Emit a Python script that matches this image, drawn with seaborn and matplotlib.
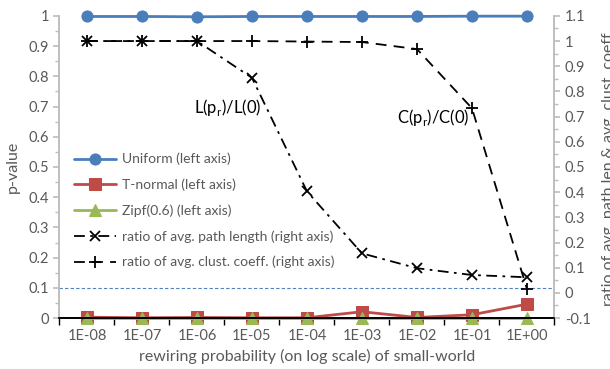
import matplotlib
matplotlib.use("Agg")
import matplotlib.pyplot as plt
import seaborn as sns
import pandas as pd
from matplotlib.ticker import MultipleLocator

categories = ["1E-08", "1E-07", "1E-06", "1E-05", "1E-04", "1E-03", "1E-02", "1E-01", "1E+00"]
uniform = [0.998, 0.998, 0.997, 0.998, 0.998, 0.998, 0.998, 0.999, 0.999]
tnormal = [0.003, 0.001, 0.002, 0.001, 0.001, 0.021, 0.002, 0.011, 0.046]
zipf = [0.0, 0.0, 0.0, 0.0, 0.0, 0.0, 0.0, 0.0, 0.0]
path_ratio = [1.0, 1.0, 1.0, 0.854, 0.403, 0.157, 0.098, 0.071, 0.062]
clust_ratio = [1.0, 1.0, 1.0, 1.0, 0.998, 0.996, 0.968, 0.733, 0.015]
threshold = 0.1

sns.set_theme(style="white")
plt.rcParams["font.family"] = ["Lato", "DejaVu Sans"]
gray = "#595959"

fig = plt.figure(figsize=(6.1, 3.69), dpi=100)
ax = fig.add_axes([0.0975, 0.138, 0.8115, 0.819])
ax2 = ax.twinx()

blue, red, green = "#4A7EBB", "#BE4B48", "#98B954"
sns.lineplot(x=categories, y=uniform, ax=ax, color=blue, marker="o", markersize=8,
             markeredgecolor=blue, linewidth=2, label="Uniform (left axis)", clip_on=False, legend=False)
sns.lineplot(x=categories, y=tnormal, ax=ax, color=red, marker="s", markersize=8,
             markeredgecolor=red, linewidth=2, label="T-normal (left axis)", clip_on=False, legend=False)
sns.lineplot(x=categories, y=zipf, ax=ax, color=green, marker="^", markersize=8,
             markeredgecolor=green, linewidth=2, label="Zipf(0.6) (left axis)", clip_on=False, legend=False)
ax.axhline(threshold, color="#4F81BD", linestyle=(0, (3, 2)), linewidth=0.8)

sns.lineplot(x=categories, y=path_ratio, ax=ax2, color="black", marker="x", markersize=7,
             markeredgecolor="black", markeredgewidth=1.3, linewidth=1.3, linestyle=(0, (6, 3, 1.5, 3)),
             label="ratio of avg. path length (right axis)", legend=False)
sns.lineplot(x=categories, y=clust_ratio, ax=ax2, color="black", marker="+", markersize=8,
             markeredgecolor="black", markeredgewidth=1.3, linewidth=1.3, linestyle=(0, (6, 4)),
             label="ratio of avg. clust. coeff. (right axis)", legend=False)

ax.set_xlim(-0.5, len(categories) - 0.5)
ax.set_ylim(0, 1)
ax2.set_ylim(-0.1, 1.1)
ax.yaxis.set_major_locator(MultipleLocator(0.1))
ax.yaxis.set_minor_locator(MultipleLocator(0.05))
ax2.yaxis.set_major_locator(MultipleLocator(0.1))
ax2.yaxis.set_minor_locator(MultipleLocator(0.05))
ax.set_yticklabels([f"{v:g}" for v in ax.get_yticks()])
ax2.set_yticklabels([f"{v:g}" for v in ax2.get_yticks()])

ax.set_xticks(range(len(categories)))
ax.set_xticklabels(categories)
ax.set_xticks([i - 0.5 for i in range(len(categories) + 1)], minor=True)
ax.tick_params(axis="x", which="major", length=0, labelsize=10.5, colors=gray, pad=8)
ax.tick_params(axis="x", which="minor", length=5, color="black", direction="out", bottom=True)
ax.tick_params(axis="y", which="major", length=4, color="#BFBFBF", labelsize=10.5, labelcolor=gray, left=True, direction="out")
ax.tick_params(axis="y", which="minor", length=3, color="#BFBFBF", left=True, direction="out")
ax2.tick_params(axis="y", which="major", length=4, color="#BFBFBF", labelsize=10.5, labelcolor=gray, right=True, direction="out")
ax2.tick_params(axis="y", which="minor", length=3, color="#BFBFBF", right=True, direction="out")

for a in (ax, ax2):
    a.spines["top"].set_visible(False)
    a.spines["left"].set_color("#BFBFBF")
    a.spines["right"].set_color("#BFBFBF")
    a.spines["bottom"].set_color("black")
    a.grid(False)

ax.set_xlabel("rewiring probability (on log scale) of small-world", fontsize=11.5, color=gray, labelpad=4)
ax.set_ylabel("p-value", fontsize=11.5, color=gray, labelpad=6)
ax2.set_ylabel("ratio of avg. path len.& avg. clust. coeff.", fontsize=11.5, color=gray, labelpad=8)

ax2.text(2.56, 0.738, r"L(p$_\mathregular{r}$)/L(0)", fontsize=12, color="black", ha="center", va="center")
ax2.text(6.3, 0.695, r"C(p$_\mathregular{r}$)/C(0)", fontsize=12, color="black", ha="center", va="center")

h1, l1 = ax.get_legend_handles_labels()
h2, l2 = ax2.get_legend_handles_labels()
leg = ax2.legend(h1 + h2, l1 + l2, loc="upper left", bbox_to_anchor=(0.005, 0.588), frameon=False,
                 fontsize=10, labelcolor=gray, handlelength=3.0, labelspacing=0.95, handletextpad=0.4)

fig.savefig("out.png", dpi=100)
